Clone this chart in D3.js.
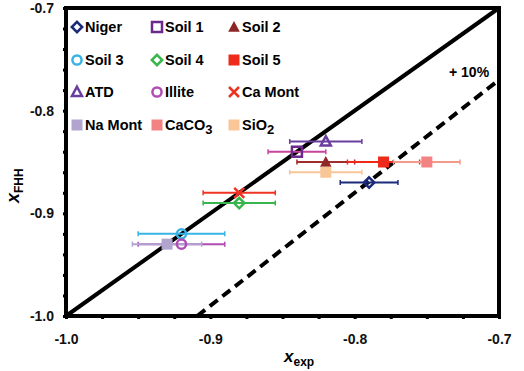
<!DOCTYPE html>
<html>
<head>
<meta charset="utf-8">
<script src="https://cdn.jsdelivr.net/npm/d3@7.9.0/dist/d3.min.js"></script>
<style>
  body { margin: 0; background: #fff; }
  svg { font-family: "Liberation Sans", Arial, sans-serif; font-weight: bold; }
</style>
</head>
<body>
<svg width="524" height="371"></svg>
<script>
// samples, values
const names = ["Niger", "Soil 1", "Soil 2", "Soil 3", "Soil 4", "Soil 5",
               "ATD", "Illite", "Ca Mont", "Na Mont", "CaCO3", "SiO2"];
const xExp = [-0.79, -0.84, -0.82, -0.92, -0.88, -0.78, -0.82, -0.92, -0.88, -0.93, -0.75, -0.82];
const xFhh = [-0.87, -0.84, -0.85, -0.92, -0.89, -0.85, -0.83, -0.93, -0.88, -0.93, -0.85, -0.86];
const xErr = [0.02, 0.02, 0.02, 0.03, 0.025, 0.025, 0.025, 0.03, 0.025, 0.024, 0.023, 0.025];
const shapes = ["diamond", "square", "triangle", "circle", "diamond", "square",
                "triangle", "circle", "cross", "square", "square", "square"];
const filled = [false, false, true, false, false, true, false, false, true, true, true, true];
const colors = ["#1c2a7a", "#6c2a8c", "#8e2626", "#38b4e4", "#38b54c", "#ee2a1a",
                "#6a3e9e", "#b04cb4", "#ee3322", "#b1a5d0", "#f38383", "#f9c698"];
const barColors = ["#1c2a7a", "#c8449f", "#a02c2c", "#38b4e4", "#38b54c", "#ee2a1a",
                   "#6a3e9e", "#b04cb4", "#ee3322", "#b1a5d0", "#f59a86", "#f9c698"];

const axisDomain = [-1.0, -0.7];
const xTicks = d3.range(0, 13).map(i => -1 + i * 0.025);
const yTicks = d3.range(0, 16).map(i => -1 + i * 0.02);
const offsetFactor = 1.1; // + 10% line

const svg = d3.select("svg");
const x = d3.scaleLinear().domain(axisDomain).range([66, 499]);
const y = d3.scaleLinear().domain(axisDomain).range([316, 8]);

const isMajor = v => Math.abs(v * 10 - Math.round(v * 10)) < 1e-6;

// axes
const xAxis = svg.append("g")
  .attr("transform", `translate(0,${y(-1)})`)
  .call(d3.axisBottom(x).tickValues(xTicks).tickSize(3).tickPadding(15)
    .tickFormat(d => isMajor(d) ? d.toFixed(1) : ""));
const yAxis = svg.append("g")
  .attr("transform", `translate(${x(-1)},0)`)
  .call(d3.axisLeft(y).tickValues(yTicks).tickSize(3).tickPadding(9)
    .tickFormat(d => isMajor(d) ? d.toFixed(1) : ""));
[xAxis, yAxis].forEach(g => {
  g.select(".domain").remove();
  g.selectAll(".tick line").attr("stroke", "#000").attr("stroke-width", 3);
  g.selectAll("text").attr("font-size", 14).attr("font-weight", "bold")
    .attr("font-family", "Liberation Sans, Arial, sans-serif").attr("fill", "#111");
});

// frame
svg.append("rect")
  .attr("x", x(-1)).attr("y", y(-0.7))
  .attr("width", x(-0.7) - x(-1)).attr("height", y(-1) - y(-0.7))
  .attr("fill", "none").attr("stroke", "#000").attr("stroke-width", 4);

// 1:1 line and +10% line
svg.append("line")
  .attr("x1", x(-1)).attr("y1", y(-1)).attr("x2", x(-0.7)).attr("y2", y(-0.7))
  .attr("stroke", "#000").attr("stroke-width", 4);
svg.append("line")
  .attr("x1", x(-1 / offsetFactor)).attr("y1", y(-1))
  .attr("x2", x(-0.7)).attr("y2", y(-0.7 * offsetFactor))
  .attr("stroke", "#000").attr("stroke-width", 4).attr("stroke-dasharray", "10,6");
svg.append("text").attr("x", 449).attr("y", 77).attr("font-size", 14).text("+ 10%");

// markers
function drawMarker(g, shape, cx, cy, color, fill) {
  const fc = fill ? color : "none";
  if (shape === "square") {
    const s = fill ? 11 : 10;
    g.append("rect").attr("x", cx - s / 2).attr("y", cy - s / 2).attr("width", s).attr("height", s)
      .attr("fill", fc).attr("stroke", fill ? "none" : color).attr("stroke-width", 2.5);
  } else if (shape === "circle") {
    g.append("circle").attr("cx", cx).attr("cy", cy).attr("r", 4.6)
      .attr("fill", fc).attr("stroke", color).attr("stroke-width", 2.5);
  } else if (shape === "diamond") {
    const r = 5.2;
    g.append("path").attr("d", `M${cx},${cy - r}L${cx + r},${cy}L${cx},${cy + r}L${cx - r},${cy}Z`)
      .attr("fill", fc).attr("stroke", color).attr("stroke-width", 2.5);
  } else if (shape === "triangle") {
    const r = fill ? 5.8 : 5;
    g.append("path").attr("d", `M${cx},${cy - r * 1.05}L${cx + r},${cy + r * 0.8}L${cx - r},${cy + r * 0.8}Z`)
      .attr("fill", fc).attr("stroke", fill ? "none" : color).attr("stroke-width", 2.5);
  } else if (shape === "cross") {
    const r = 5;
    g.append("path").attr("d", `M${cx - r},${cy - r}L${cx + r},${cy + r}M${cx + r},${cy - r}L${cx - r},${cy + r}`)
      .attr("stroke", color).attr("stroke-width", 2.5);
  }
}

const pts = svg.append("g");
names.forEach((n, i) => {
  const cy = y(xFhh[i]);
  const x0 = x(xExp[i] - xErr[i]), x1 = x(xExp[i] + xErr[i]);
  const g = pts.append("g");
  g.append("line").attr("x1", x0).attr("x2", x1).attr("y1", cy).attr("y2", cy)
    .attr("stroke", barColors[i]).attr("stroke-width", 2);
  [x0, x1].forEach(xx => g.append("line").attr("x1", xx).attr("x2", xx)
    .attr("y1", cy - 2.5).attr("y2", cy + 2.5).attr("stroke", barColors[i]).attr("stroke-width", 1.5));
});
names.forEach((n, i) => {
  drawMarker(pts, shapes[i], x(xExp[i]), y(xFhh[i]), colors[i], filled[i]);
});

// legend
const legCols = [77, 157, 234];
const legRows = [27, 60, 92, 125];
const leg = svg.append("g");
names.forEach((n, i) => {
  const col = i % 3, row = Math.floor(i / 3);
  const mx = legCols[col], my = legRows[row];
  drawMarker(leg, shapes[i], mx, my, colors[i], filled[i]);
  const t = leg.append("text").attr("x", mx + 8).attr("y", my + 5).attr("font-size", 14.5);
  const m = n.match(/^(.*?)(\d)$/);
  if (n === "CaCO3" || n === "SiO2") {
    t.append("tspan").text(m[1]);
    t.append("tspan").attr("dy", 4).attr("font-size", 13).text(m[2]);
  } else {
    t.text(n);
  }
});

// axis titles
const xt = svg.append("text").attr("x", 284).attr("y", 362).attr("font-size", 17);
xt.append("tspan").attr("font-style", "italic").text("x");
xt.append("tspan").attr("dy", 4).attr("font-size", 12).text("exp");
const yt = svg.append("text").attr("transform", "translate(19,203) rotate(-90)").attr("font-size", 18);
yt.append("tspan").attr("font-style", "italic").text("x");
yt.append("tspan").attr("dy", 4).attr("font-size", 12).text("FHH");
</script>
</body>
</html>
